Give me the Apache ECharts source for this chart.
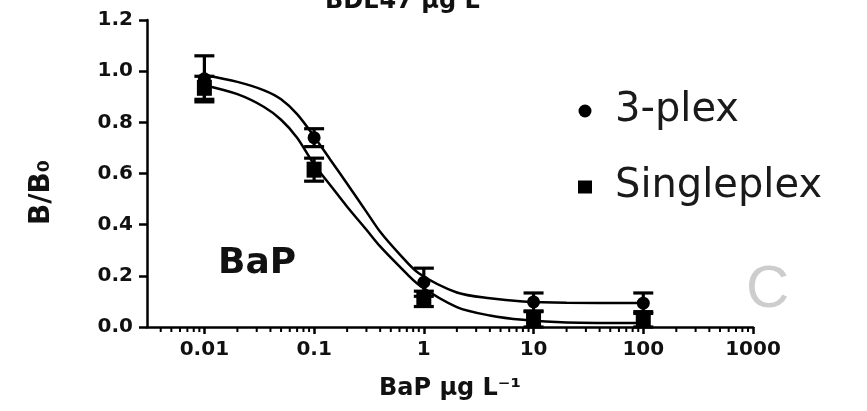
<!DOCTYPE html>
<html>
<head>
<meta charset="utf-8">
<script src="https://cdn.jsdelivr.net/npm/echarts@6/dist/echarts.min.js"></script>
<style>
  html, body { margin: 0; padding: 0; background: #fff; }
  #container { width: 867px; height: 411px; }
</style>
</head>
<body>
<div id="container"></div>
<script>
// measured points (BaP concentration, ug/L)
var concentrations = [0.01, 0.1, 1, 10, 100];
var plexMean = [0.97, 0.74, 0.175, 0.098, 0.093];
var plexErr = [0.09, 0.035, 0.055, 0.035, 0.04];
var singleMean = [0.935, 0.615, 0.11, 0.03, 0.03];
var singleErr = [0.045, 0.045, 0.03, 0.03, 0.03];

// fitted curves
var fitX = [0.01, 0.02, 0.035, 0.05, 0.07, 0.1, 0.14, 0.2, 0.3, 0.4, 0.6, 0.9, 2, 4, 8, 20, 100];
var plexFit = [0.985, 0.958, 0.925, 0.89, 0.832, 0.745, 0.655, 0.56, 0.45, 0.372, 0.285, 0.21, 0.135, 0.112, 0.1, 0.095, 0.094];
var singleFit = [0.945, 0.91, 0.86, 0.81, 0.74, 0.635, 0.555, 0.47, 0.38, 0.315, 0.237, 0.165, 0.078, 0.045, 0.028, 0.018, 0.016];

var yTickFormat = 1; // decimals on y labels
var xMin = 0.003, xMax = 1000;

var dom = document.getElementById("container");
var myChart = echarts.init(dom);

var font = 'DejaVu Sans';

function pairs(xs, ys) {
    var out = [];
    for (var i = 0; i < xs.length; i++) out.push([xs[i], ys[i]]);
    return out;
}

function errData(mean, err) {
    var out = [];
    for (var i = 0; i < concentrations.length; i++) {
        out.push([concentrations[i], mean[i] - err[i], mean[i] + err[i]]);
    }
    return out;
}

// log minor ticks (2..9 of each decade) inside the axis range
var minorTicks = [];
[0.001, 0.01, 0.1, 1, 10, 100].forEach(function (d) {
    for (var k = 2; k <= 9; k++) {
        var v = +(k * d).toPrecision(3);
        if (v > xMin && v < xMax) minorTicks.push([v, 0]);
    }
});

function errorBarItem(params, api) {
    var x = api.value(0);
    var top = api.coord([x, api.value(2)]);
    var bot = api.coord([x, api.value(1)]);
    var hw = 10;
    var style = { stroke: '#000', lineWidth: 3.2 };
    return {
        type: 'group',
        children: [
            { type: 'line', shape: { x1: top[0], y1: top[1], x2: bot[0], y2: bot[1] }, style: style },
            { type: 'line', shape: { x1: top[0] - hw, y1: top[1], x2: top[0] + hw, y2: top[1] }, style: style },
            { type: 'line', shape: { x1: bot[0] - hw, y1: bot[1], x2: bot[0] + hw, y2: bot[1] }, style: style }
        ]
    };
}

function minorTickItem(params, api) {
    var p = api.coord([api.value(0), 0]);
    return {
        type: 'line',
        shape: { x1: p[0], y1: p[1], x2: p[0], y2: p[1] + 5 },
        style: { stroke: '#000', lineWidth: 2 }
    };
}

var option = {
    animation: false,
    backgroundColor: '#fff',
    grid: { left: 147, right: 114, top: 20, bottom: 84, containLabel: false },
    legend: {
        orient: 'vertical',
        left: 573,
        top: 84,
        itemWidth: 14,
        itemHeight: 13,
        itemGap: 32,
        selectedMode: false,
        data: [
            { name: '3-plex', icon: 'circle' },
            { name: 'Singleplex', icon: 'rect' }
        ],
        textStyle: {
            fontFamily: font, fontSize: 40, color: '#1a1a1a', lineHeight: 44,
            padding: [0, 0, 0, 18]
        }
    },
    graphic: [
        {
            type: 'text', left: 325, top: -10,
            style: { text: 'BDE47 μg L⁻¹', fill: '#111', font: 'bold 24px "DejaVu Sans"' }
        },
        {
            type: 'text', left: 218, top: 246,
            style: { text: 'BaP', fill: '#111', font: 'bold 36px "DejaVu Sans"' }
        },
        {
            type: 'text', left: 746, top: 260,
            style: { text: 'C', fill: '#cdcdcd', font: '60px "Liberation Sans"' }
        }
    ],
    xAxis: {
        type: 'log',
        logBase: 10,
        min: xMin,
        max: xMax,
        name: 'BaP μg L⁻¹',
        nameLocation: 'middle',
        nameGap: 50,
        nameTextStyle: { fontFamily: font, fontWeight: 'bold', fontSize: 24, color: '#111' },
        axisLine: { lineStyle: { color: '#000', width: 2.5 } },
        axisTick: { length: 7, lineStyle: { color: '#000', width: 2.5 } },
        axisLabel: {
            showMinLabel: false,
            margin: 13,
            fontFamily: font, fontWeight: 'bold', fontSize: 20, color: '#111',
            formatter: function (v) { return String(+Number(v).toPrecision(3)); }
        },
        splitLine: { show: false }
    },
    yAxis: {
        type: 'value',
        min: 0,
        max: 1.2,
        interval: 0.2,
        name: 'B/B₀',
        nameLocation: 'middle',
        nameGap: 91,
        nameTextStyle: {
            fontFamily: font, fontWeight: 'bold', fontSize: 28, color: '#111',
            padding: [0, 38, 0, 0]
        },
        axisLine: { show: true, lineStyle: { color: '#000', width: 2.5 } },
        axisTick: { show: true, length: 8, lineStyle: { color: '#000', width: 2.5 } },
        axisLabel: {
            margin: 14,
            fontFamily: font, fontWeight: 'bold', fontSize: 20, color: '#111',
            formatter: function (v) { return v.toFixed(yTickFormat); }
        },
        splitLine: { show: false }
    },
    series: [
        {
            name: 'minor ticks', type: 'custom', renderItem: minorTickItem,
            data: minorTicks, clip: false, silent: true, z: 1
        },
        {
            name: '3-plex err', type: 'custom', renderItem: errorBarItem,
            encode: { x: 0, y: [1, 2] }, data: errData(plexMean, plexErr), z: 2
        },
        {
            name: 'Singleplex err', type: 'custom', renderItem: errorBarItem,
            encode: { x: 0, y: [1, 2] }, data: errData(singleMean, singleErr), z: 2
        },
        {
            name: '3-plex fit', type: 'line', data: pairs(fitX, plexFit),
            smooth: 0.3, showSymbol: false, silent: true,
            lineStyle: { color: '#000', width: 2.5 }, z: 3
        },
        {
            name: 'Singleplex fit', type: 'line', data: pairs(fitX, singleFit),
            smooth: 0.3, showSymbol: false, silent: true,
            lineStyle: { color: '#000', width: 2.5 }, z: 3
        },
        {
            name: '3-plex', type: 'scatter', symbol: 'circle', symbolSize: 13,
            data: pairs(concentrations, plexMean),
            itemStyle: { color: '#000', opacity: 1 }, z: 4
        },
        {
            name: 'Singleplex', type: 'scatter', symbol: 'rect', symbolSize: [15, 16],
            data: pairs(concentrations, singleMean),
            itemStyle: { color: '#000', opacity: 1 }, z: 4
        }
    ]
};

myChart.setOption(option, true);
</script>
</body>
</html>
